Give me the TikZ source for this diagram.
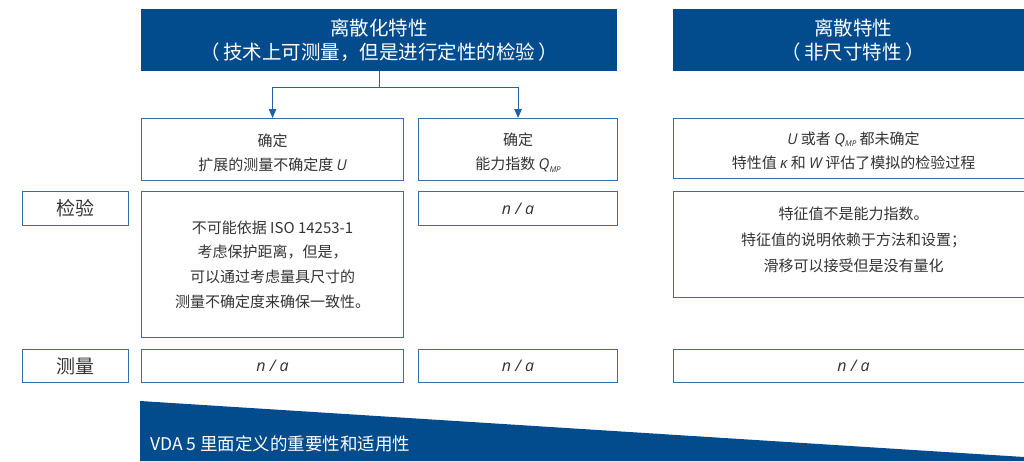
\documentclass[tikz,border=0pt]{standalone}
\usepackage{fontspec}
\setmainfont{Noto Sans CJK SC}
\newfontfamily\latf{Open Sans}
\usetikzlibrary{arrows.meta}
\definecolor{hdblue}{HTML}{024B8C}
\definecolor{bdblue}{HTML}{3470AC}
\definecolor{arblue}{HTML}{2360A6}
\definecolor{txt}{HTML}{333333}
\newcommand{\itl}[1]{{\latf\itshape #1}}
\newcommand{\qmp}{{\latf\itshape Q\raisebox{-0.3ex}{\fontsize{8}{8}\selectfont MP}}}
\begin{document}
\begin{tikzpicture}[x=1pt,y=-1pt,
  hdr/.style={fill=hdblue,draw=none,text=white,anchor=north west,inner sep=0pt,align=center,font=\fontsize{19.5}{24}\selectfont},
  cell/.style={draw=bdblue,line width=1.1pt,anchor=north west,inner sep=0pt,align=center,text=txt,font=\fontsize{15}{24.5}\selectfont},
  ctext/.style={inner sep=0pt,align=center,text=txt,font=\fontsize{15}{24.5}\selectfont},
  lab/.style={draw=bdblue,line width=1.1pt,anchor=north west,inner sep=0pt,align=center,text=txt,font=\fontsize{19}{22}\selectfont},
  arr/.style={draw=arblue,line width=1pt,-{Triangle[length=9pt,width=7.5pt]}}]
\useasboundingbox (0,0) rectangle (1024,461);
% headers
\node[hdr,minimum width=476pt,minimum height=62pt] (h1) at (141,9) {离散化特性\\（\,技术上可测量，但是进行定性的检验\,）};
\node[hdr,minimum width=360pt,minimum height=62pt] (h2) at (673,9) {离散特性\\（\,非尺寸特性\,）};
% row 1
\node[cell,minimum width=262pt,minimum height=62pt] (b1) at (141,118) {};
\node[ctext] (b1t) at ([yshift=-3pt]b1.center) {确定\\扩展的测量不确定度 \itl{U}};
\node[cell,minimum width=199pt,minimum height=62pt] (b2) at (418,118) {};
\node[ctext] (b2t) at ([yshift=-3pt]b2.center) {确定\\能力指数 \qmp};
\node[cell,minimum width=360pt,minimum height=60pt] (b3) at (673,118) {};
\node[ctext] (b3t) at ([yshift=-2pt]b3.center) {\itl{U} 或者 \qmp\ 都未确定\\特性值 \itl{κ} 和 \itl{W} 评估了模拟的检验过程};
% row 2
\node[lab,minimum width=106pt,minimum height=34pt] (l1) at (22,191) {检验};
\node[cell,minimum width=262pt,minimum height=146pt] (c1) at (141,191) {不可能依据 ISO 14253-1\\考虑保护距离，但是，\\可以通过考虑量具尺寸的\\测量不确定度来确保一致性。};
\node[cell,minimum width=199pt,minimum height=34pt] (c2) at (418,191) {\itl{\fontsize{16}{18}\selectfont n / a}};
\node[cell,minimum width=360pt,minimum height=106pt] (c3) at (673,191) {};
\node[ctext,font=\fontsize{15}{26}\selectfont] (c3t) at ([yshift=5pt]c3.center) {特征值不是能力指数。\\特征值的说明依赖于方法和设置；\\滑移可以接受但是没有量化};
% row 3
\node[lab,minimum width=106pt,minimum height=33pt] (l2) at (22,349) {测量};
\node[cell,minimum width=262pt,minimum height=33pt] (d1) at (141,349) {\itl{\fontsize{16}{18}\selectfont n / a}};
\node[cell,minimum width=199pt,minimum height=33pt] (d2) at (418,349) {\itl{\fontsize{16}{18}\selectfont n / a}};
\node[cell,minimum width=360pt,minimum height=33pt] (d3) at (673,349) {\itl{\fontsize{16}{18}\selectfont n / a}};
% connectors
\coordinate (j) at ([yshift=-16pt]h1.south);
\draw[draw=arblue,line width=1pt] (h1.south) -- (j);
\draw[arr] (j) -| (b1.north);
\draw[arr] (j) -| (b2.north);
% bottom wedge
\fill[hdblue] (140,401) -- (1024,457) -- (1024,461) -- (140,461) -- cycle;
\node[anchor=west,text=white,inner sep=0pt,font=\fontsize{17.5}{20}\selectfont] (vda) at (150,444) {VDA 5 里面定义的重要性和适用性};
\end{tikzpicture}
\end{document}
